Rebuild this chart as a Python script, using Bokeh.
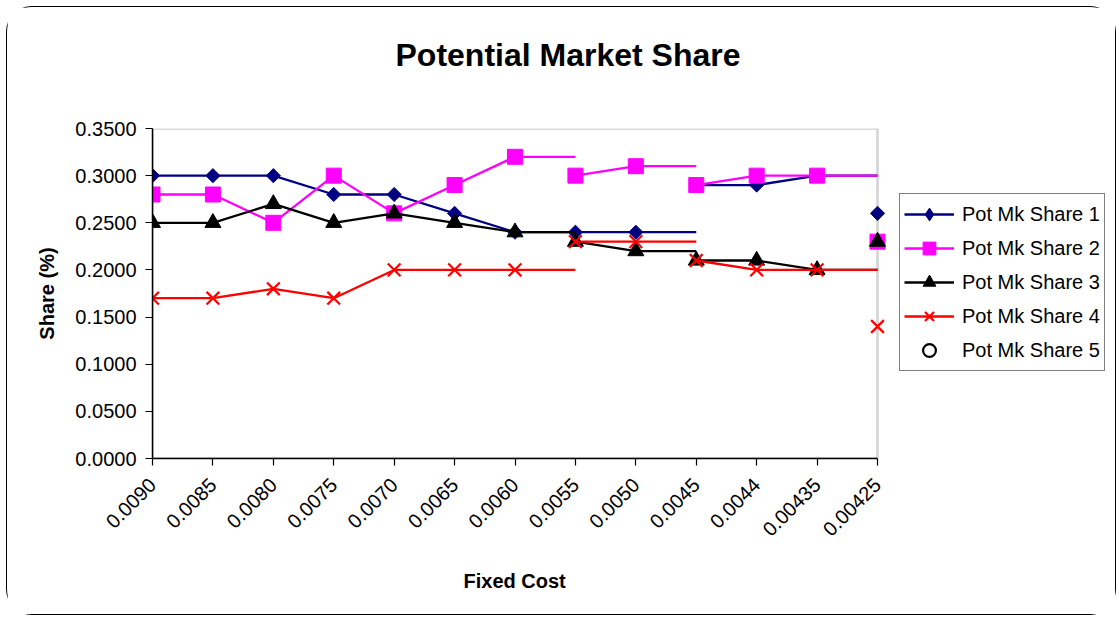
import math
from bokeh.plotting import figure
from bokeh.models import (Range1d, Legend, LegendItem, NumeralTickFormatter, FixedTicker,
                          BoxAnnotation, Title)
from bokeh.embed import file_html
from bokeh.resources import INLINE

# ---- data ----
categories = ["0.0090", "0.0085", "0.0080", "0.0075", "0.0070", "0.0065", "0.0060",
              "0.0055", "0.0050", "0.0045", "0.0044", "0.00435", "0.00425"]
share1 = [0.30, 0.30, 0.30, 0.28, 0.28, 0.26, 0.24, 0.24, 0.24, 0.29, 0.29, 0.30, 0.26]
share2 = [0.28, 0.28, 0.25, 0.30, 0.26, 0.29, 0.32, 0.30, 0.31, 0.29, 0.30, 0.30, 0.23]
share3 = [0.25, 0.25, 0.27, 0.25, 0.26, 0.25, 0.24, 0.23, 0.22, 0.21, 0.21, 0.20, 0.23]
share4 = [0.17, 0.17, 0.18, 0.17, 0.20, 0.20, 0.20, 0.23, 0.23, 0.21, 0.20, 0.20, 0.14]
share5 = [float("nan")] * len(categories)   # no visible values
series_names = ["Pot Mk Share 1", "Pot Mk Share 2", "Pot Mk Share 3", "Pot Mk Share 4", "Pot Mk Share 5"]
y_ticks = [0.0, 0.05, 0.10, 0.15, 0.20, 0.25, 0.30, 0.35]
# the line pieces of the source chart break at these category positions
line_breaks = [0, 7, 9, 12]

FONT = "Liberation Sans"

# layout (pixels)
W, H = 1110, 609
LEFT, TOP, BOTTOM, RIGHT = 145, 121, 158, 0
PLOT_W = 725            # width of the visible plot area; legend sits right of it
frame_w = W - LEFT - RIGHT
n = len(categories)
xi = list(range(n))
x_end = (n - 1) * frame_w / PLOT_W

p = figure(width=W, height=H, output_backend="svg", toolbar_location=None,
           x_range=Range1d(0, x_end), y_range=Range1d(0, 0.35),
           min_border_left=LEFT, min_border_top=TOP, min_border_right=RIGHT,
           min_border_bottom=BOTTOM,
           background_fill_color="white", border_fill_color="white", title=None)
p.styles = {"border": "1.5px solid black", "border-radius": "26px",
            "margin": "6px 0px 0px 6px"}

# titles: spacer nearest the frame, then the main title
p.add_layout(Title(text=" ", text_font_size="10px", standoff=43), "above")
p.add_layout(Title(text="Potential Market Share", align="left", offset=243, standoff=0,
                   text_font=FONT, text_font_size="32px", text_font_style="bold",
                   text_color="black"), "above")

p.outline_line_color = None
p.xgrid.visible = False
p.ygrid.visible = False

# plot-area border (grey, top & right)
p.add_layout(BoxAnnotation(left=0, right=n - 1, bottom=0, top=0.35, fill_alpha=0,
                           line_color="#808080", line_width=3, level="underlay"))

# y axis
p.yaxis.ticker = FixedTicker(ticks=y_ticks)
p.yaxis.formatter = NumeralTickFormatter(format="0.0000")
p.yaxis.axis_label = "Share (%)"
p.yaxis.minor_tick_line_color = None
p.yaxis.major_tick_out = 7
p.yaxis.major_tick_in = 0
p.yaxis.major_label_standoff = 9
p.yaxis.axis_label_standoff = 14

# x axis
p.xaxis.ticker = FixedTicker(ticks=xi)
p.xaxis.major_label_overrides = {i: c for i, c in zip(xi, categories)}
p.xaxis.bounds = (0, n - 1)
p.xaxis.major_label_orientation = math.pi / 4
p.xaxis.minor_tick_line_color = None
p.xaxis.major_tick_out = 7
p.xaxis.major_tick_in = 0
p.xaxis.major_label_standoff = 16

for ax in (p.xaxis[0], p.yaxis[0]):
    ax.axis_line_color = "black"
    ax.axis_line_width = 1.5
    ax.major_tick_line_color = "black"
    ax.major_tick_line_width = 1.2
    ax.major_label_text_font = FONT
    ax.major_label_text_font_size = "20px"
    ax.major_label_text_color = "black"
    ax.axis_label_text_font = FONT
    ax.axis_label_text_font_size = "20px"
    ax.axis_label_text_font_style = "bold"
    ax.axis_label_text_color = "black"

# x-axis title, centred under the visible plot area (spacer first)
p.add_layout(Title(text=" ", text_font_size="10px", standoff=9), "below")
p.add_layout(Title(text="Fixed Cost", align="left", offset=311, standoff=0,
                   text_font=FONT, text_font_size="20px", text_font_style="bold",
                   text_color="black"), "below")

styles = [
    dict(color="#000080", marker="square", size=10, angle=math.pi / 4, legend_marker="diamond"),
    dict(color="#FF00FF", marker="square", size=15, angle=0, legend_marker=None),
    dict(color="#000000", marker="triangle", size=16, angle=0, legend_marker=None),
    dict(color="#FF0000", marker="x", size=18, angle=0, legend_marker=None),
]

items = []
for vals, name, st in zip([share1, share2, share3, share4], series_names, styles):
    rends = []
    for s, e in zip(line_breaks[:-1], line_breaks[1:]):
        xs = xi[s:e + 1]
        ys = vals[s:e] + [vals[e - 1]]
        r = p.line(xs, ys, line_color=st["color"], line_width=2.3)
        rends.append(r)
    if st["marker"] == "x":
        m = p.scatter(xi, vals, marker="x", size=st["size"], line_color=st["color"],
                      line_width=2.2)
    else:
        m = p.scatter(xi, vals, marker=st["marker"], size=st["size"], angle=st["angle"],
                      fill_color=st["color"], line_color=st["color"], line_width=1)
    legend_rends = [rends[0], m]
    if st["legend_marker"]:
        # legend glyph (the plot uses a rotated square, which the legend does not rotate)
        lm = p.scatter(xi, share5, marker=st["legend_marker"], size=st["size"],
                       fill_color=st["color"], line_color=st["color"])
        legend_rends = [rends[0], lm]
    items.append(LegendItem(label=name, renderers=legend_rends))

r5 = p.scatter(xi, share5, marker="circle", size=10, fill_color=None, line_color="black",
               line_width=2.2)
items.append(LegendItem(label=series_names[4], renderers=[r5]))

legend = Legend(items=items, location=(747, 87), border_line_color="black", border_line_width=1,
                background_fill_color="white", background_fill_alpha=1,
                label_text_font=FONT, label_text_font_size="20px", label_text_color="black",
                glyph_width=50, glyph_height=32, label_height=27, spacing=2, padding=4,
                label_standoff=8, margin=0)
p.add_layout(legend, "center")

open("out.html", "w").write(file_html(p, INLINE))
